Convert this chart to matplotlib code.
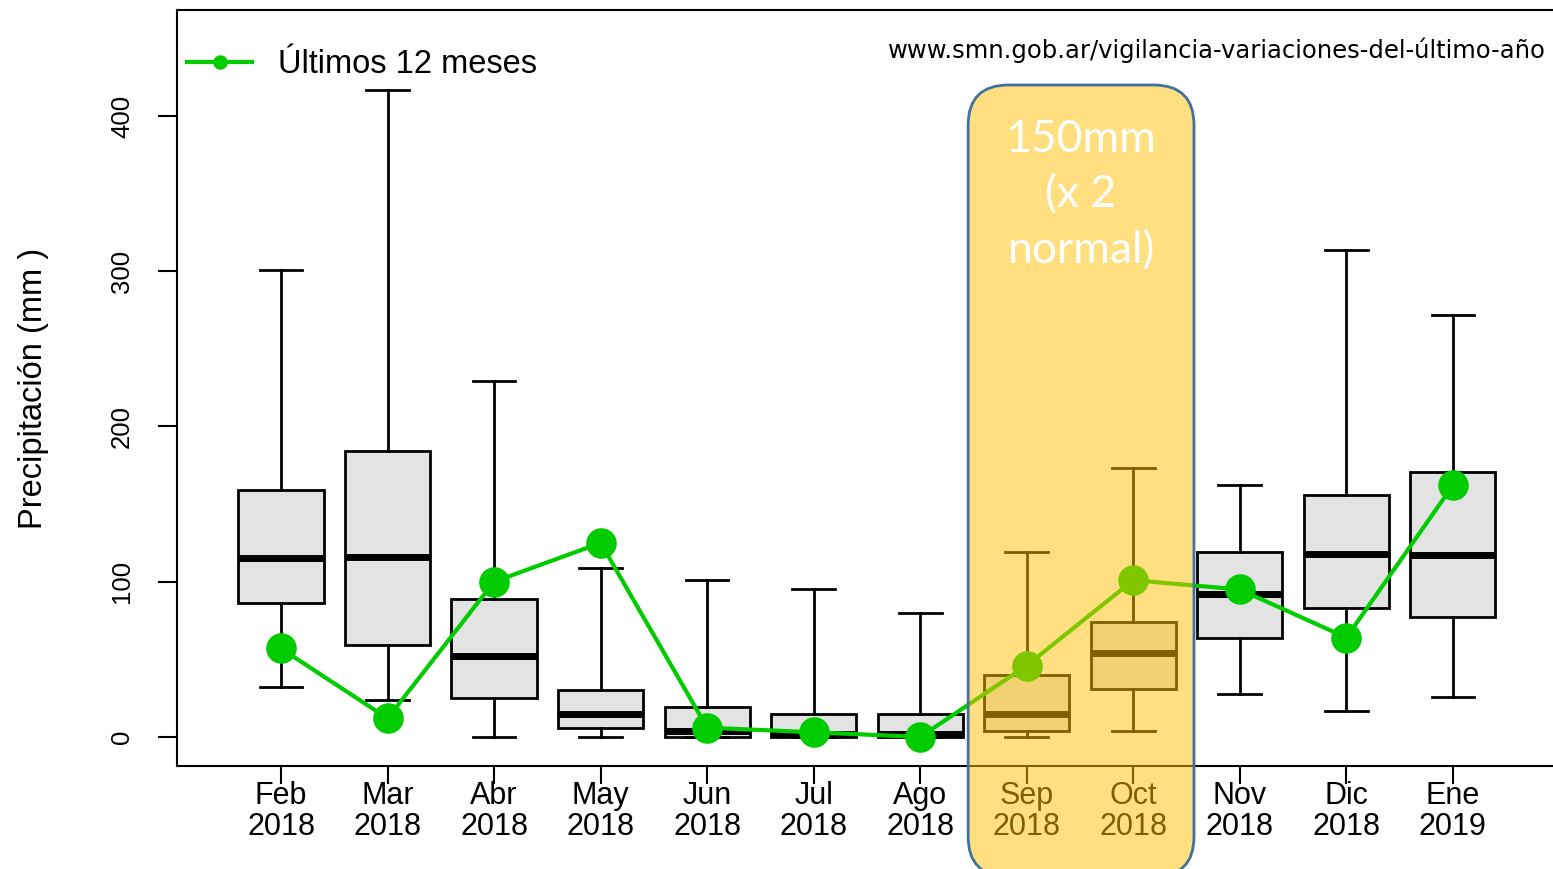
import matplotlib
matplotlib.use("Agg")
import matplotlib.pyplot as plt
from matplotlib.patches import FancyBboxPatch

plt.rcParams['font.family'] = ['Liberation Sans', 'DejaVu Sans']

# datos
meses = ['Feb\n2018', 'Mar\n2018', 'Abr\n2018', 'May\n2018', 'Jun\n2018', 'Jul\n2018',
         'Ago\n2018', 'Sep\n2018', 'Oct\n2018', 'Nov\n2018', 'Dic\n2018', 'Ene\n2019']
whis_hi = [301, 417, 229, 109, 101, 95, 80, 119, 173, 162, 314, 272]
q3 = [159, 184, 89, 30, 19, 15, 15, 40, 74, 119, 156, 171]
mediana = [115, 116, 52, 15, 4, 2, 2, 15, 54, 92, 118, 117]
q1 = [86, 59, 25, 6, 0, 0, 0, 4, 31, 64, 83, 77]
whis_lo = [32, 24, 0, 0, 0, 0, 0, 0, 4, 28, 17, 26]
ultimos = [57, 12, 100, 125, 6, 3, 0, 46, 101, 95, 64, 162]

pos = list(range(1, len(meses) + 1))

stats = []
for i in range(len(meses)):
    stats.append(dict(med=mediana[i], q1=q1[i], q3=q3[i],
                      whislo=whis_lo[i], whishi=whis_hi[i], fliers=[]))

fig = plt.figure(figsize=(15.53, 8.69), dpi=100)
ax = fig.add_axes([177/1553, 103/869, 1376/1553, 756/869])

ax.bxp(stats, positions=pos, widths=0.8, capwidths=0.4, patch_artist=True,
       showfliers=False,
       boxprops=dict(facecolor='#E3E3E3', edgecolor='black', linewidth=2),
       medianprops=dict(color='black', linewidth=5, solid_capstyle='butt'),
       whiskerprops=dict(color='black', linewidth=2),
       capprops=dict(color='black', linewidth=2))

ax.plot(pos, ultimos, color='#00CC00', linewidth=3, marker='o', markersize=21,
        label='Últimos 12 meses', zorder=5)

ax.set_xlim(0.0235, 12.94)
ax.set_ylim(-18.7, 468.3)
ax.set_xticks(pos)
ax.set_xticklabels(meses, fontsize=22, linespacing=1.05)
ax.set_yticks([0, 100, 200, 300, 400])
ax.set_yticklabels(['0', '100', '200', '300', '400'], rotation=90, va='center', fontsize=18.5)
ax.tick_params(axis='y', length=14, width=1.5, pad=17)
ax.tick_params(axis='x', length=13, width=1.5, pad=-2)
ax.spines['right'].set_visible(False)
for s in ['left', 'bottom', 'top']:
    ax.spines[s].set_linewidth(1.5)

ax.set_ylabel('Precipitación (mm )', fontsize=23.5, labelpad=44)

ax.legend(loc='upper left', bbox_to_anchor=(0.0073, 0.948), frameon=False, fontsize=23.5,
          handlelength=2.0, handletextpad=0.8, markerscale=0.45,
          borderaxespad=0, borderpad=0)

ax.text(0.9945, 0.947, 'www.smn.gob.ar/vigilancia-variaciones-del-último-año',
        transform=ax.transAxes, ha='right', va='center', fontsize=17.5,
        family=['DejaVu Sans'])

# recuadro destacado Sep-Oct
caja = FancyBboxPatch((7.45, -90), 2.12, 510,
                      boxstyle='round,pad=0,rounding_size=0.38',
                      mutation_aspect=68, facecolor='#FFC000', alpha=0.5,
                      edgecolor='none', clip_on=False, zorder=10)
ax.add_patch(caja)
borde = FancyBboxPatch((7.45, -90), 2.12, 510,
                       boxstyle='round,pad=0,rounding_size=0.38',
                       mutation_aspect=68, facecolor='none',
                       edgecolor='#41719C', linewidth=2, clip_on=False, zorder=11)
ax.add_patch(borde)
ax.text(8.51, 349, '150mm\n(x 2\nnormal)', color='white', fontsize=32,
        family=['Lato', 'DejaVu Sans'], ha='center', va='center', linespacing=1.45,
        zorder=12)

plt.savefig('out.png', dpi=100)
